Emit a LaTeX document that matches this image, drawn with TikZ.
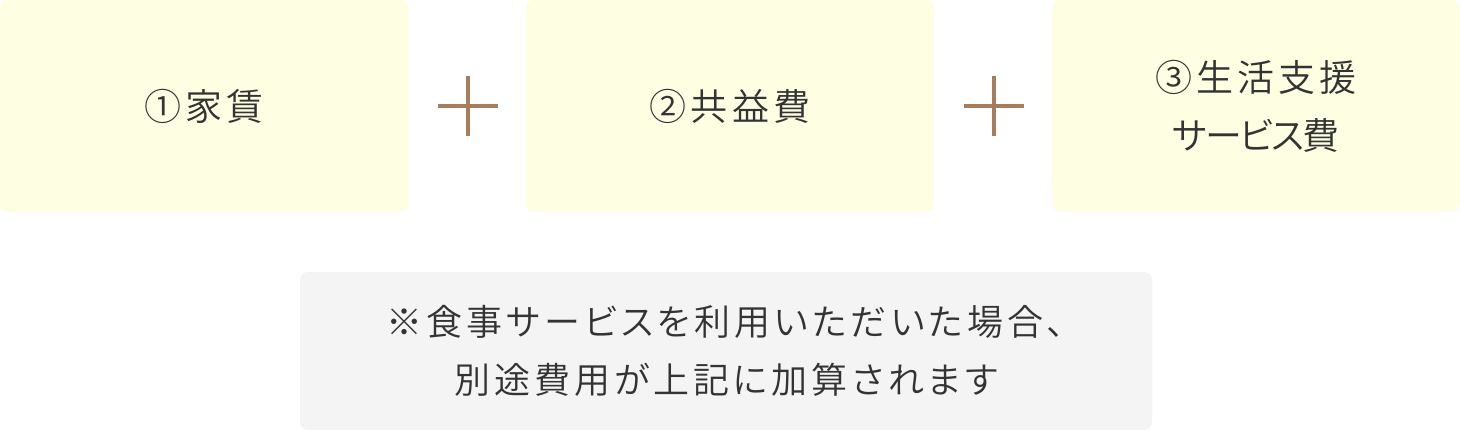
\documentclass[tikz,border=0pt]{standalone}
\usepackage{fontspec}
\IfFontExistsTF{Noto Sans CJK JP DemiLight}
  {\newfontfamily\jp[RawFeature=+palt,LetterSpace=11]{Noto Sans CJK JP DemiLight}
   \newfontfamily\jptight[RawFeature=+palt,LetterSpace=-6]{Noto Sans CJK JP DemiLight}}
  {\newfontfamily\jp[RawFeature=+palt,LetterSpace=11]{Noto Sans CJK JP}
   \newfontfamily\jptight[RawFeature=+palt,LetterSpace=-6]{Noto Sans CJK JP}}
\definecolor{boxfill}{HTML}{FEFEE3}
\definecolor{notefill}{HTML}{F4F4F4}
\definecolor{plusc}{HTML}{A67D5D}
\definecolor{txt}{HTML}{333333}
\tikzset{
  costbox/.style={fill=boxfill, rounded corners=8pt, minimum width=408pt, minimum height=212pt,
    inner sep=0pt, align=center, text=txt, font=\jp\fontsize{37pt}{58pt}\selectfont},
  notebox/.style={fill=notefill, rounded corners=8pt, minimum width=852pt, minimum height=158pt,
    inner sep=0pt, align=center, text=txt, font=\jp\fontsize{36pt}{58pt}\selectfont},
  plusline/.style={draw=plusc, line width=4pt}
}
\begin{document}
\begin{tikzpicture}[x=1pt,y=-1pt]
\useasboundingbox[fill=white] (0,0) rectangle (1460,430);
\node[costbox] (b1) at (204,106) {①家賃};
\node[costbox] (b2) at (730,106) {②共益費};
\node[costbox] (b3) at (1256,106) {③生活支援\\{\jptight\fontsize{37pt}{58pt}\selectfont サービス費}};
\node[notebox] (note) at (726,351) {※食事サービスを利用いただいた場合、\\別途費用が上記に加算されます};
\coordinate (p1) at (468,106);
\coordinate (p2) at (994,106);
\foreach \p in {p1,p2}{
  \draw[plusline] ([xshift=-30pt]\p) -- ([xshift=30pt]\p);
  \draw[plusline] ([yshift=-30pt]\p) -- ([yshift=30pt]\p);
}
\end{tikzpicture}
\end{document}
